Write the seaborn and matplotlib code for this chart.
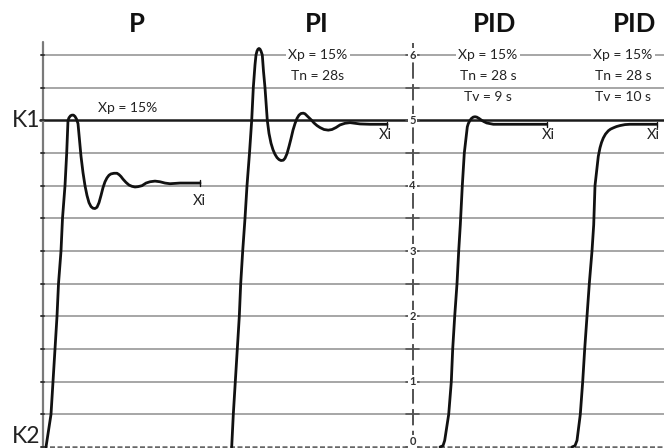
import matplotlib
matplotlib.use("Agg")
import matplotlib.pyplot as plt
import seaborn as sns
import pandas as pd

sns.set_theme(style="white")
plt.rcParams['font.family'] = ['Lato', 'DejaVu Sans']

# ---- data (t = time axis units, v = scale 0..6) ----
p_t = [46, 51, 53, 55, 57, 58.5, 61, 62.5, 65, 66.7, 68, 69, 70.5, 72, 73.5, 75, 76.5, 78, 79.5,
       81, 83, 85, 87, 89, 91, 93, 95, 97, 99, 101, 103, 105, 107, 109, 111, 114, 117, 119, 121,
       123, 126, 129, 132, 135, 138, 142, 146, 150, 155, 160, 165, 170, 180, 200]
p_v = [0, 0.5, 1.0, 1.5, 2.0, 2.5, 3.0, 3.5, 4.0, 4.5, 5.0, 5.04, 5.07, 5.08, 5.08, 5.06, 5.02,
       4.95, 4.7, 4.45, 4.2, 4.0, 3.85, 3.74, 3.68, 3.655, 3.65, 3.67, 3.74, 3.85, 3.97, 4.06,
       4.12, 4.16, 4.18, 4.19, 4.19, 4.17, 4.14, 4.1, 4.05, 4.01, 3.99, 3.98, 3.985, 4.0, 4.04,
       4.06, 4.07, 4.06, 4.04, 4.03, 4.04, 4.04]

pi_t = [231.7, 233.3, 235.3, 237.3, 239.3, 240.7, 242.7, 245, 247, 249.5, 251.7, 253.3, 255, 256,
        257, 258, 259, 260, 261, 262.3, 263.5, 265, 267.3, 269, 271, 273, 275, 277, 279, 281,
        283.3, 285, 287, 289, 291, 293, 295, 297, 299, 301, 303.3, 305, 307, 309, 311.7, 314,
        317, 320, 324, 328.3, 332, 336, 340, 345, 350, 355, 360, 370, 387]
pi_v = [0, 0.5, 1.0, 1.5, 2.0, 2.5, 3.0, 3.5, 4.0, 4.5, 5.0, 5.5, 5.85, 6.0,
        6.06, 6.09, 6.10, 6.09, 6.06, 6.0, 5.75, 5.5, 5.0, 4.8, 4.65, 4.55, 4.48, 4.43, 4.40, 4.385,
        4.39, 4.42, 4.49, 4.6, 4.72, 4.85, 4.95, 5.03, 5.08, 5.105, 5.11, 5.1, 5.07, 5.04, 5.0, 4.96,
        4.92, 4.89, 4.86, 4.85, 4.86, 4.89, 4.93, 4.955, 4.965, 4.955, 4.945, 4.94, 4.94]

pid9_t = [440, 443, 444.7, 448.7, 451.3, 452.7, 454.7, 457, 458.7, 460.3, 462.3, 464.3, 467.3,
          468.3, 470, 471.5, 473.3, 475, 476.7, 479, 481.7, 484, 486.7, 490, 493.3, 503.3, 546.7]
pid9_v = [0, 0.02, 0.1, 0.5, 1.0, 1.5, 2.0, 2.5, 3.0, 3.4, 4.0, 4.5, 4.9,
          4.95, 5.0, 5.03, 5.05, 5.055, 5.05, 5.03, 5.0, 4.98, 4.96, 4.95, 4.94, 4.94, 4.94]

pid10_t = [572, 575, 577, 580.3, 582.7, 584.7, 587, 589.3, 592, 593.7, 595, 598.3, 600, 601.5,
           603.3, 605.5, 608.3, 610.5, 613.3, 616.5, 620, 625, 630, 656.7]
pid10_v = [0, 0.02, 0.1, 0.5, 1.0, 1.5, 2.0, 2.5, 3.0, 3.4, 4.0, 4.45, 4.58, 4.66,
           4.73, 4.79, 4.84, 4.865, 4.885, 4.905, 4.92, 4.935, 4.94, 4.94]

titles = ["P", "PI", "PID", "PID"]
title_t = [137, 317, 495, 635]
params = [["Xp = 15%"],
          ["Xp = 15%", "Tn = 28s"],
          ["Xp = 15%", "Tn = 28 s", "Tv = 9 s"],
          ["Xp = 15%", "Tn = 28 s", "Tv = 10 s"]]
param_t = [128, 318, 488, 623]
xi_t = [199, 385, 548, 653]
xi_v = [3.77, 4.78, 4.78, 4.78]
grid_levels = [0.5, 1.0, 1.5, 2.0, 2.5, 3.0, 3.5, 4.0, 4.5, 5.5, 6.0]
scale_labels = ["0", "1", "2", "3", "4", "5", "6"]

# ---- figure ----
PXU = 65.33  # pixels per unit
fig = plt.figure(figsize=(6.64, 4.48), dpi=100)
ax = fig.add_axes([0, 0, 1, 1])
ax.set_xlim(0, 664)
ax.set_ylim(-1 / PXU, 447 / PXU)

for g in grid_levels:
    ax.plot([42, 664], [g, g], color="#a6a6a6", lw=1.4, zorder=1, solid_capstyle="butt")
ax.plot([40, 664], [5, 5], color="#1a1a1a", lw=1.8, zorder=2)
ax.plot([42, 664], [0, 0], color="#666666", lw=1.8, zorder=2, ls=(0, (2, 1)))

# left axis
ax.plot([42.5, 42.5], [0, 6.2], color="#7a7a7a", lw=1.6, zorder=2)
for g in [0.5 * k for k in range(13)]:
    ax.plot([41, 44], [g, g], color="#333333", lw=1.4, zorder=3)

# middle scale
ax.plot([412.5, 412.5], [0, 6.18], color="#444444", lw=1.3, zorder=2, ls=(0, (9, 3)))
for g in [0.5 * k for k in range(13)]:
    ax.plot([406, 419], [g, g], color="#555555", lw=1.2, zorder=3)
for k, lab in enumerate(scale_labels):
    ax.text(412.5, k + (0.08 if k == 0 else 0), lab, ha="center", va="center", fontsize=8,
            fontweight="bold", color="#333333", zorder=5,
            bbox=dict(boxstyle="square,pad=0.12", fc="white", ec="none"))

# curves
for tt, vv in [(p_t, p_v), (pi_t, pi_v), (pid9_t, pid9_v), (pid10_t, pid10_v)]:
    df = pd.DataFrame({"t": tt, "v": vv})
    sns.lineplot(data=df, x="t", y="v", ax=ax, color="#111111", lw=2.0,
                 sort=False, estimator=None, zorder=4, solid_joinstyle="round")
ax.set_axis_off()

for tt, vv in [(p_t, p_v), (pi_t, pi_v), (pid9_t, pid9_v), (pid10_t, pid10_v)]:
    ax.plot([tt[-1], tt[-1]], [vv[-1] - 0.04, vv[-1] + 0.04], color="#111111", lw=1.0, zorder=4)

# titles
for t, s in zip(title_t, titles):
    ax.text(t, (447 - 24) / PXU, s, ha="center", va="center", fontsize=18.5,
            fontweight="bold", color="#111111", zorder=6)

# parameter texts
p_first_v = [(447 - 108) / PXU, 6.0, 6.0, 6.0]
for t, lines, v0 in zip(param_t, params, p_first_v):
    for i, s in enumerate(lines):
        kw = {}
        if i == 0:
            kw["bbox"] = dict(boxstyle="square,pad=0.2", fc="white", ec="none")
        ax.text(t, v0 - i * 21 / PXU, s, ha="center", va="center", fontsize=10,
                color="#222222", zorder=6, **kw)

for t, v in zip(xi_t, xi_v):
    ax.text(t, v, "Xi", ha="center", va="center", fontsize=10.5, color="#222222", zorder=6)

ax.text(26, 5.0, "K1", ha="center", va="center", fontsize=16.5, color="#222222", zorder=6)
ax.text(26, 0.0, "K2", ha="center", va="bottom", fontsize=16.5, color="#222222", zorder=6)

fig.savefig("out.png", dpi=100, facecolor="white")
